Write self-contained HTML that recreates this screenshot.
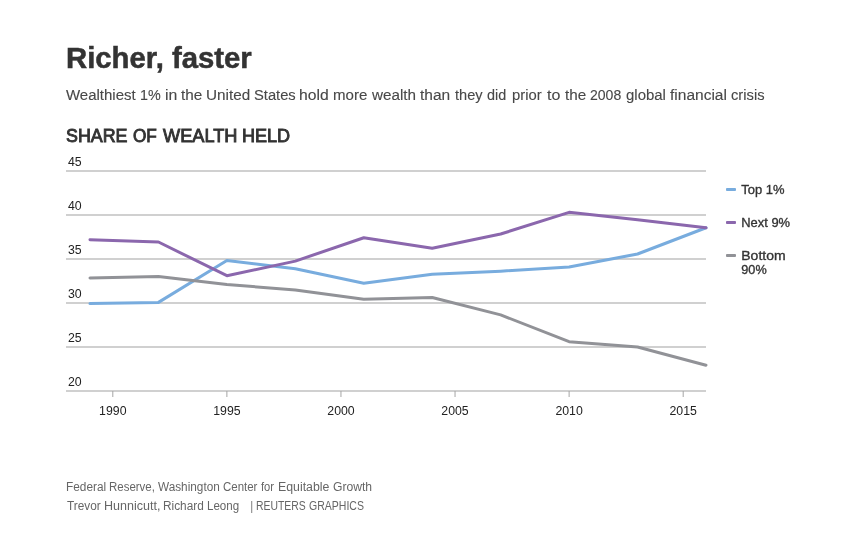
<!DOCTYPE html>
<html lang="en">
<head>
<meta charset="utf-8">
<title>Richer, faster</title>
<style>
html,body{margin:0;padding:0;background:#fff;}
body{width:847px;height:540px;overflow:hidden;position:relative;font-family:"Liberation Sans",sans-serif;color:#333;}
.abs{position:absolute;white-space:nowrap;line-height:1;transform-origin:0 0;}
.line{position:absolute;left:0;width:847px;white-space:nowrap;line-height:1;}
.line .w{position:absolute;top:0;left:0;display:block;transform-origin:0 0;white-space:nowrap;}
#title{left:66.4px;top:44.2px;font-size:29px;font-weight:700;color:#333;-webkit-text-stroke:0.5px #333;transform:scaleX(1.011);}
#sub{top:87px;height:16px;font-size:15.1px;color:#484848;-webkit-text-stroke:0.12px #484848;}
#chart-title{top:127.1px;height:18px;font-size:18px;font-weight:400;color:#333;-webkit-text-stroke:0.9px #333;}
#src1{top:481px;height:12px;font-size:12px;color:#666;}
#src2{top:500px;height:12px;font-size:12px;color:#666;}
svg{position:absolute;left:0;top:0;}
svg text.ax{font-family:"Liberation Sans",sans-serif;font-size:12.3px;fill:#222;}
svg text.lg{font-family:"Liberation Sans",sans-serif;font-size:12px;font-weight:400;fill:#333;stroke:#333;stroke-width:0.32px;}
</style>
</head>
<body>
<h1 class="abs" id="title" style="margin:0">Richer, faster</h1>
<p class="line" id="sub" style="margin:0"><span class="w" style="left:66.28px;transform:scaleX(0.9929)">Wealthiest</span> <span class="w" style="left:140.18px;transform:scaleX(0.9500)">1%</span> <span class="w" style="left:164.70px;transform:scaleX(1.0476)">in</span> <span class="w" style="left:180.96px;transform:scaleX(1.0145)">the</span> <span class="w" style="left:205.70px;transform:scaleX(1.0130)">United</span> <span class="w" style="left:253.70px;transform:scaleX(0.9752)">States</span> <span class="w" style="left:299.27px;transform:scaleX(1.0390)">hold</span> <span class="w" style="left:332.73px;transform:scaleX(0.9970)">more</span> <span class="w" style="left:371.76px;transform:scaleX(1.0085)">wealth</span> <span class="w" style="left:420.25px;transform:scaleX(1.0276)">than</span> <span class="w" style="left:454.56px;transform:scaleX(0.9666)">they</span> <span class="w" style="left:487.49px;transform:scaleX(0.9563)">did</span> <span class="w" style="left:511.67px;transform:scaleX(0.9797)">prior</span> <span class="w" style="left:547.15px;transform:scaleX(1.0600)">to</span> <span class="w" style="left:565.46px;transform:scaleX(1.0094)">the</span> <span class="w" style="left:590.13px;transform:scaleX(0.9300)">2008</span> <span class="w" style="left:625.86px;transform:scaleX(0.9911)">global</span> <span class="w" style="left:670.47px;transform:scaleX(1.0283)">financial</span> <span class="w" style="left:731.46px;transform:scaleX(0.9747)">crisis</span></p>
<h2 class="line" id="chart-title" style="margin:0"><span class="w" style="left:66.14px;transform:scaleX(0.9909)">SHARE</span> <span class="w" style="left:132.90px;transform:scaleX(0.9533)">OF</span> <span class="w" style="left:162.72px;transform:scaleX(1.0098)">WEALTH</span> <span class="w" style="left:242.32px;transform:scaleX(1.0026)">HELD</span></h2>
<svg width="847" height="540" viewBox="0 0 847 540">
<g id="grid">
<line x1="66" x2="706" y1="171.0" y2="171.0" stroke="#d0d0d0" stroke-width="2"/>
<text x="68" y="166.0" class="ax">45</text>
<line x1="66" x2="706" y1="215.0" y2="215.0" stroke="#d0d0d0" stroke-width="2"/>
<text x="68" y="210.0" class="ax">40</text>
<line x1="66" x2="706" y1="259.0" y2="259.0" stroke="#d0d0d0" stroke-width="2"/>
<text x="68" y="254.0" class="ax">35</text>
<line x1="66" x2="706" y1="303.0" y2="303.0" stroke="#d0d0d0" stroke-width="2"/>
<text x="68" y="298.0" class="ax">30</text>
<line x1="66" x2="706" y1="347.0" y2="347.0" stroke="#d0d0d0" stroke-width="2"/>
<text x="68" y="342.0" class="ax">25</text>
<line x1="66" x2="706" y1="391.0" y2="391.0" stroke="#d0d0d0" stroke-width="2"/>
<text x="68" y="386.0" class="ax">20</text>
</g>
<g id="ticks">
<line x1="112.81" x2="112.81" y1="391" y2="397" stroke="#a6a6a6" stroke-width="1"/>
<text x="112.8" y="415" class="ax" text-anchor="middle">1990</text>
<line x1="226.89" x2="226.89" y1="391" y2="397" stroke="#a6a6a6" stroke-width="1"/>
<text x="226.9" y="415" class="ax" text-anchor="middle">1995</text>
<line x1="340.96" x2="340.96" y1="391" y2="397" stroke="#a6a6a6" stroke-width="1"/>
<text x="341.0" y="415" class="ax" text-anchor="middle">2000</text>
<line x1="455.04" x2="455.04" y1="391" y2="397" stroke="#a6a6a6" stroke-width="1"/>
<text x="455.0" y="415" class="ax" text-anchor="middle">2005</text>
<line x1="569.11" x2="569.11" y1="391" y2="397" stroke="#a6a6a6" stroke-width="1"/>
<text x="569.1" y="415" class="ax" text-anchor="middle">2010</text>
<line x1="683.19" x2="683.19" y1="391" y2="397" stroke="#a6a6a6" stroke-width="1"/>
<text x="683.2" y="415" class="ax" text-anchor="middle">2015</text>
</g>
<g fill="none" stroke-width="3" stroke-linecap="round" stroke-linejoin="round">
<path id="l-top" d="M90.00,303.62 L158.44,302.38 L226.89,260.41 L295.33,268.68 L363.78,283.29 L432.22,274.22 L500.67,271.14 L569.11,266.92 L637.56,253.98 L706.00,227.76" stroke="#78acde"/>
<path id="l-next" d="M90.00,239.64 L158.44,242.02 L226.89,275.72 L295.33,261.11 L363.78,237.79 L432.22,248.26 L500.67,234.01 L569.11,212.36 L637.56,219.84 L706.00,227.76" stroke="#8b67ad"/>
<path id="l-bot" d="M90.00,278.01 L158.44,276.42 L226.89,284.52 L295.33,289.98 L363.78,299.30 L432.22,297.54 L500.67,314.88 L569.11,341.72 L637.56,347.00 L706.00,365.22" stroke="#919297"/>
</g>
<g id="legend">
<rect x="726" y="188.0" width="10" height="3" rx="0.9" fill="#78acde"/>
<text id="lg1" x="741.3" y="193.5" class="lg" textLength="43.2" lengthAdjust="spacingAndGlyphs">Top 1%</text>
<rect x="726" y="221.0" width="10" height="3" rx="0.9" fill="#8b67ad"/>
<text id="lg2" x="741.3" y="226.5" class="lg" textLength="48.8" lengthAdjust="spacingAndGlyphs">Next 9%</text>
<rect x="726" y="254.0" width="10" height="3" rx="0.9" fill="#919297"/>
<text id="lg3" x="741.3" y="259.5" class="lg" textLength="44.3" lengthAdjust="spacingAndGlyphs">Bottom</text>
<text id="lg4" x="741.3" y="273.5" class="lg" textLength="25.4" lengthAdjust="spacingAndGlyphs">90%</text>
</g>
</svg>
<p class="line" id="src1" style="margin:0"><span class="w" style="left:65.86px;transform:scaleX(0.9854)">Federal</span> <span class="w" style="left:108.99px;transform:scaleX(0.9565)">Reserve,</span> <span class="w" style="left:157.88px;transform:scaleX(0.9817)">Washington</span> <span class="w" style="left:223.15px;transform:scaleX(0.9553)">Center</span> <span class="w" style="left:261.16px;transform:scaleX(0.9300)">for</span> <span class="w" style="left:278.02px;transform:scaleX(1.0276)">Equitable</span> <span class="w" style="left:332.82px;transform:scaleX(1.0115)">Growth</span></p>
<p class="line" id="src2" style="margin:0"><span class="w" style="left:66.90px;transform:scaleX(0.9850)">Trevor</span> <span class="w" style="left:103.61px;transform:scaleX(1.0442)">Hunnicutt,</span> <span class="w" style="left:163.26px;transform:scaleX(0.9866)">Richard</span> <span class="w" style="left:207.29px;transform:scaleX(0.9642)">Leong</span> <span class="w" id="pipe" style="left:250.0px;top:-0.7px;font-size:13px;color:#8a8a8a">|</span> <span class="w" style="left:255.98px;transform:scaleX(0.8676)">REUTERS</span> <span class="w" style="left:308.70px;transform:scaleX(0.8773)">GRAPHICS</span></p>
</body>
</html>
